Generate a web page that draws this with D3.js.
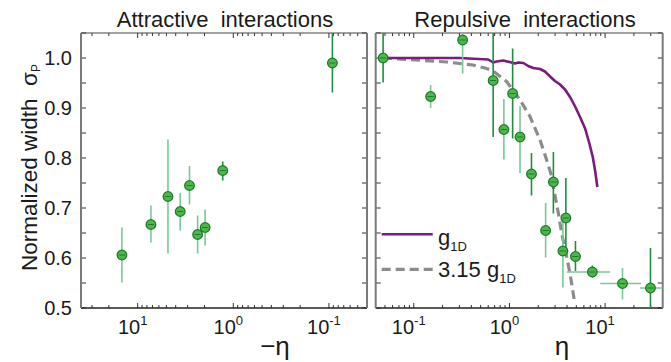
<!DOCTYPE html>
<html>
<head>
<meta charset="utf-8">
<script src="https://cdn.jsdelivr.net/npm/d3@7"></script>
<style>
  body { margin: 0; background: #fff; }
  text { font-family: "Liberation Sans", Arial, sans-serif; fill: #1a1a1a; }
</style>
</head>
<body>
<svg id="chart" width="671" height="362"></svg>
<script>
// attractive side, values of -eta
const attrEta = [14.6, 7.26, 4.82, 3.59, 2.87, 2.36, 1.97, 1.29, 0.092];
const attrWidth = [0.606, 0.667, 0.723, 0.693, 0.745, 0.647, 0.661, 0.775, 0.99];
const attrLow = [0.551, 0.631, 0.609, 0.655, 0.707, 0.609, 0.625, 0.755, 0.931];
const attrHigh = [0.661, 0.705, 0.837, 0.73, 0.784, 0.685, 0.697, 0.793, 1.06];
const attrSet = ['b', 'b', 'b', 'b', 'b', 'b', 'b', 'a', 'a'];

// repulsive side
const repEta = [0.0478, 0.15, 0.324, 0.676, 0.875, 1.08, 1.29, 1.70, 2.88, 2.39, 3.89, 3.62, 4.9, 7.36, 15.2, 29.8];
const repWidth = [1.0, 0.923, 1.036, 0.955, 0.857, 0.929, 0.842, 0.768, 0.752, 0.655, 0.68, 0.614, 0.603, 0.572, 0.549, 0.54];
const repLow = [0.951, 0.9, 0.969, 0.842, 0.797, 0.839, 0.77, 0.725, 0.689, 0.601, 0.62, 0.541, 0.574, 0.561, 0.517, 0.49];
const repHigh = [1.06, 0.946, 1.06, 1.06, 0.918, 1.019, 0.904, 0.81, 0.812, 0.71, 0.76, 0.68, 0.634, 0.585, 0.58, 0.62];
const repEtaLow = [null, null, null, null, null, null, null, null, null, null, null, null, null, 3.97, 8.9, 23.2];
const repEtaHigh = [null, null, null, null, null, null, null, null, null, null, null, null, null, 11.3, 23.8, 60];
const repSet = ['a', 'b', 'b', 'a', 'b', 'a', 'b', 'a', 'a', 'b', 'a', 'b', 'a', 'a', 'b', 'a'];

// theory curves
const g1dEta = [0.0478, 0.3, 0.600, 0.676, 0.734, 0.861, 1.05, 1.14, 1.24, 1.40, 1.57, 1.78, 2.09, 2.35, 2.66,
  2.99, 3.38, 3.81, 4.30, 4.86, 5.47, 6.18, 6.85, 7.43, 7.86, 8.30];
const g1dWidth = [1.0, 1.0, 0.997, 0.991, 0.993, 0.995, 0.991, 0.989, 0.991, 0.99, 0.984, 0.98, 0.978, 0.973, 0.963,
  0.954, 0.947, 0.937, 0.922, 0.903, 0.882, 0.859, 0.829, 0.802, 0.775, 0.742];
const g315Eta = [0.0478, 0.0908, 0.22, 0.415, 0.577, 0.676, 0.935, 1.29, 1.64, 2.09, 2.45, 2.77, 2.88, 3.25, 3.52, 3.97, 4.3, 4.77];
const g315Width = [1.0, 0.997, 0.992, 0.986, 0.979, 0.974, 0.953, 0.916, 0.883, 0.836, 0.796, 0.763, 0.742, 0.689, 0.649, 0.602, 0.569, 0.515];

const yMajor = [0.5, 0.6, 0.7, 0.8, 0.9, 1.0];
const yTicks = d3.range(0.5, 1.051, 0.05);
const xMajor = [0.1, 1, 10];

const svg = d3.select('#chart');
const plotTop = 33, plotBottom = 308;

const y = d3.scaleLinear().domain([0.5, 1.05]).range([plotBottom, plotTop]);
const xAttr = d3.scaleLog().domain([39.1, 0.04]).range([81, 367]);
const xRep = d3.scaleLog().domain([0.04, 40]).range([375.7, 662.7]);
const tone = d3.scaleOrdinal().domain(['a', 'b']).range(['#1f8f3f', '#7cc69a']);

function minorTicks(x) {
  const [a, b] = d3.extent(x.domain());
  const out = [];
  [0.01, 0.1, 1, 10].forEach(d => {
    for (let k = 2; k <= 9; k++) {
      const v = d * k;
      if (v > a && v < b) out.push(v);
    }
  });
  return out;
}

function drawPanel(x, id, showY) {
  const [x0, x1] = x.range();
  const g = svg.append('g');

  g.append('clipPath').attr('id', id)
    .append('rect').attr('x', x0).attr('y', plotTop).attr('width', x1 - x0).attr('height', plotBottom - plotTop);

  // ticks, all pointing inward
  const tickG = g.append('g').attr('stroke', '#333').attr('stroke-width', 1);
  tickG.selectAll('.xb').data(xMajor).enter().append('line')
    .attr('x1', d => x(d)).attr('x2', d => x(d)).attr('y1', plotBottom).attr('y2', plotBottom - 5);
  tickG.selectAll('.xt').data(xMajor).enter().append('line')
    .attr('x1', d => x(d)).attr('x2', d => x(d)).attr('y1', plotTop).attr('y2', plotTop + 5);
  const mins = minorTicks(x);
  tickG.selectAll('.mb').data(mins).enter().append('line')
    .attr('x1', d => x(d)).attr('x2', d => x(d)).attr('y1', plotBottom).attr('y2', plotBottom - 3);
  tickG.selectAll('.mt').data(mins).enter().append('line')
    .attr('x1', d => x(d)).attr('x2', d => x(d)).attr('y1', plotTop).attr('y2', plotTop + 3);
  tickG.selectAll('.yl').data(yTicks).enter().append('line')
    .attr('x1', x0).attr('x2', x0 + 5).attr('y1', d => y(d)).attr('y2', d => y(d));
  tickG.selectAll('.yr').data(yTicks).enter().append('line')
    .attr('x1', x1).attr('x2', x1 - 5).attr('y1', d => y(d)).attr('y2', d => y(d));

  // frame
  g.append('line').attr('x1', x0).attr('x2', x1).attr('y1', plotBottom).attr('y2', plotBottom)
    .attr('stroke', '#222').attr('stroke-width', 1.5);
  g.append('line').attr('x1', x0).attr('x2', x1).attr('y1', plotTop).attr('y2', plotTop)
    .attr('stroke', '#444').attr('stroke-width', 1.2);
  g.append('line').attr('x1', x0).attr('x2', x0).attr('y1', plotTop).attr('y2', plotBottom)
    .attr('stroke', '#7a7a7a').attr('stroke-width', 2);
  g.append('line').attr('x1', x1).attr('x2', x1).attr('y1', plotTop).attr('y2', plotBottom)
    .attr('stroke', '#7a7a7a').attr('stroke-width', 2);

  // x tick labels 10^n
  const lab = g.selectAll('.xl').data(xMajor).enter().append('text')
    .attr('x', d => x(d) - 5).attr('y', 334)
    .attr('text-anchor', 'middle').style('font-size', '20px');
  lab.append('tspan').text('10');
  lab.append('tspan').attr('dy', -9).style('font-size', '13px').text(d => Math.round(Math.log10(d)));

  if (showY) {
    g.selectAll('.ylab').data(yMajor).enter().append('text')
      .attr('x', x0 - 9).attr('y', d => y(d) + 7)
      .attr('text-anchor', 'end').style('font-size', '20px')
      .text(d3.format('.1f'));
  }
  return g;
}

function drawPoints(g, x, id, eta, width, low, high, set, etaLow, etaHigh) {
  const pts = eta.map((e, i) => ({
    e, w: width[i], lo: low[i], hi: high[i], s: set[i],
    el: etaLow ? etaLow[i] : null, eh: etaHigh ? etaHigh[i] : null
  }));
  const clip = g.append('g').attr('clip-path', `url(#${id})`);
  clip.selectAll('.hx').data(pts.filter(d => d.el != null)).enter().append('line')
    .attr('x1', d => x(d.el)).attr('x2', d => x(d.eh))
    .attr('y1', d => y(d.w)).attr('y2', d => y(d.w))
    .attr('stroke', '#7cc69a').attr('stroke-width', 1.6);
  clip.selectAll('.ey').data(pts).enter().append('line')
    .attr('x1', d => x(d.e)).attr('x2', d => x(d.e))
    .attr('y1', d => y(d.lo)).attr('y2', d => y(d.hi))
    .attr('stroke', d => tone(d.s)).attr('stroke-width', 1.6);
  const m = clip.selectAll('.pt').data(pts).enter().append('g')
    .attr('transform', d => `translate(${x(d.e)},${y(d.w)})`);
  m.append('circle').attr('r', 4.8)
    .attr('fill', '#4db848').attr('stroke', '#1c7a2c').attr('stroke-width', 1.3);
  m.append('line').attr('x1', -3).attr('x2', 3)
    .attr('stroke', '#1c7a2c').attr('stroke-width', 1);
  return clip;
}

// left panel
const gA = drawPanel(xAttr, 'clipA', true);
drawPoints(gA, xAttr, 'clipA', attrEta, attrWidth, attrLow, attrHigh, attrSet);

// right panel
const gR = drawPanel(xRep, 'clipR', false);
const curveClip = gR.append('g').attr('clip-path', 'url(#clipR)');
const lineR = (es, ws) => d3.line()
  .x((d, i) => xRep(es[i])).y((d, i) => y(ws[i]))(es);
curveClip.append('path').attr('d', lineR(g315Eta, g315Width))
  .attr('fill', 'none').attr('stroke', '#8c8c8c').attr('stroke-width', 3.2)
  .attr('stroke-dasharray', '9,5');
curveClip.append('path').attr('d', lineR(g1dEta, g1dWidth))
  .attr('fill', 'none').attr('stroke', '#7a1b7d').attr('stroke-width', 2.6)
  .attr('stroke-linejoin', 'round');
drawPoints(gR, xRep, 'clipR', repEta, repWidth, repLow, repHigh, repSet, repEtaLow, repEtaHigh);

// legend
svg.append('line').attr('x1', 381.7).attr('x2', 432.7).attr('y1', 234.3).attr('y2', 234.3)
  .attr('stroke', '#7a1b7d').attr('stroke-width', 2.6);
svg.append('line').attr('x1', 381.7).attr('x2', 432.7).attr('y1', 269.3).attr('y2', 269.3)
  .attr('stroke', '#8c8c8c').attr('stroke-width', 3.2).attr('stroke-dasharray', '9,5');
const l1 = svg.append('text').attr('x', 438).attr('y', 245).style('font-size', '22px');
l1.append('tspan').text('g');
l1.append('tspan').attr('dy', 6).style('font-size', '13px').text('1D');
const l2 = svg.append('text').attr('x', 438).attr('y', 277).style('font-size', '22px');
l2.append('tspan').text('3.15 g');
l2.append('tspan').attr('dy', 6).style('font-size', '13px').text('1D');

// titles
svg.append('text').attr('x', 225).attr('y', 27).attr('text-anchor', 'middle')
  .style('font-size', '22px').style('white-space', 'pre').text('Attractive  interactions');
svg.append('text').attr('x', 525).attr('y', 27).attr('text-anchor', 'middle')
  .style('font-size', '22px').style('white-space', 'pre').text('Repulsive  interactions');

// axis titles
svg.append('text').attr('x', 275).attr('y', 355).attr('text-anchor', 'middle')
  .style('font-size', '26px').text('\u2212\u03b7');
svg.append('text').attr('x', 562).attr('y', 355).attr('text-anchor', 'middle')
  .style('font-size', '26px').text('\u03b7');

const yl = svg.append('text').attr('transform', 'translate(37,271) rotate(-90)')
  .style('font-size', '22.5px').style('white-space', 'pre');
yl.append('tspan').text('Normalized width  \u03c3');
yl.append('tspan').attr('dy', 3).style('font-size', '12px').text('P');
</script>
</body>
</html>
